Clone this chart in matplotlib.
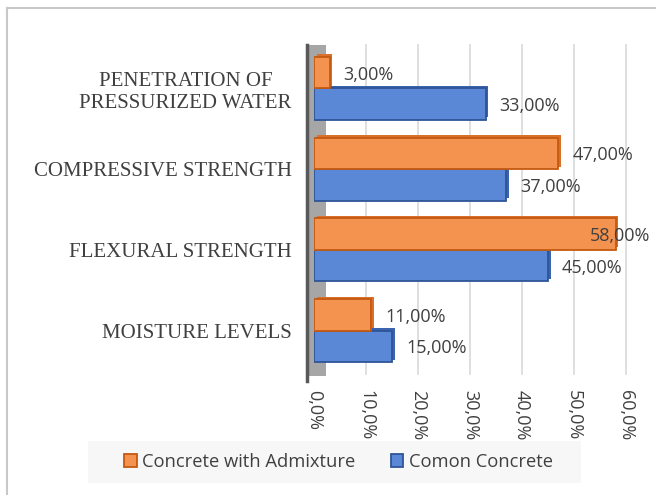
import numpy as np
import matplotlib.pyplot as plt
import matplotlib.patheffects as pe
from matplotlib.patches import Rectangle, Patch
from matplotlib.lines import Line2D

# 数据（自下而上）
categories = ['MOISTURE LEVELS', 'FLEXURAL STRENGTH', 'COMPRESSIVE STRENGTH',
              'PENETRATION OF\nPRESSURIZED WATER']
admixture = [0.11, 0.58, 0.47, 0.03]
common = [0.15, 0.45, 0.37, 0.33]
xticks = [0.0, 0.1, 0.2, 0.3, 0.4, 0.5, 0.6]
xtick_labels = ['0,0%', '10,0%', '20,0%', '30,0%', '40,0%', '50,0%', '60,0%']
series_names = ['Concrete with Admixture', 'Comon Concrete']

orange, orange_edge, orange_side = '#f4924f', '#c55a11', '#d9712c'
blue, blue_edge, blue_side = '#5a87d6', '#2f5597', '#3a64b0'
text_c = '#404040'
sans = ['Open Sans', 'DejaVu Sans']
serif = ['Liberation Serif', 'DejaVu Serif']

fig = plt.figure(figsize=(6.56, 4.95), dpi=100)
ax = fig.add_axes([314 / 656, 1 - 371 / 495, 312 / 656, 323 / 495])

y = np.arange(len(categories))
h = 0.39

# 左侧灰色背墙
ax.axvspan(-0.013, 0.024, ymin=-0.015, ymax=1.01, color='#a6a6a6', zorder=0.5, lw=0, clip_on=False)
ax.axvline(-0.013, ymin=-0.03, ymax=1.01, color='#595959', lw=2.5, zorder=0.6, clip_on=False)

for v in xticks[1:]:
    ax.axvline(v, ymin=-0.01, ymax=1.01, color='#d9d9d9', lw=1.2, zorder=0.4, clip_on=False)

shadow = lambda c: [pe.SimplePatchShadow(offset=(1.8, 1.8), shadow_rgbFace=c, alpha=1), pe.Normal()]
b1 = ax.barh(y - h / 2, common, height=h, color=blue, edgecolor=blue_edge, lw=1.3, zorder=2)
b2 = ax.barh(y + h / 2, admixture, height=h, color=orange, edgecolor=orange_edge, lw=1.3, zorder=3)
for b in b1:
    b.set_path_effects(shadow(blue_side))
for b in b2:
    b.set_path_effects(shadow(orange_side))

# 数据标签
for yy, vals in ((y + h / 2, admixture), (y - h / 2, common)):
    for yi, v in zip(yy, vals):
        dx = -26 if v >= max(admixture) else 14
        ax.annotate(f'{v * 100:.2f}%'.replace('.', ','), (v, yi), xytext=(dx, -2),
                    textcoords='offset pixels', ha='left', va='center',
                    fontsize=13, color=text_c, family=sans, zorder=5, annotation_clip=False)

ax.set_xlim(0, 0.6)
ax.set_ylim(-0.5, len(categories) - 0.5)
ax.set_yticks(y)
ax.set_yticklabels(categories, family=serif, fontsize=15, color=text_c, multialignment='center')
ax.set_xticks(xticks)
ax.set_xticklabels(xtick_labels, rotation=-90, family=sans, fontsize=13, color=text_c)
ax.tick_params(axis='y', length=0, pad=16)
ax.tick_params(axis='x', length=0, pad=14)
for s in ax.spines.values():
    s.set_visible(False)

# 图例背景与图例
fig.patches.append(Rectangle((88 / 656, 1 - 483 / 495), 493 / 656, 42 / 495,
                             transform=fig.transFigure, color='#f7f7f7', lw=0, zorder=0))
handles = [Patch(facecolor=orange, edgecolor=orange_edge, lw=1.3),
           Patch(facecolor=blue, edgecolor=blue_edge, lw=1.3)]
fig.legend(handles, series_names, loc='center', bbox_to_anchor=(0.516, 1 - 462 / 495), ncol=2,
           frameon=False, handlelength=0.7, handleheight=0.7, handletextpad=0.3,
           columnspacing=1.9, prop={'family': sans, 'size': 13.2}, labelcolor=text_c)

# 外框（左、上）
fig.lines.append(Line2D([6.5 / 656, 6.5 / 656], [0, 1 - 7.5 / 495], transform=fig.transFigure,
                        color='#c8c8c8', lw=1.5))
fig.lines.append(Line2D([6.5 / 656, 1], [1 - 7.5 / 495, 1 - 7.5 / 495], transform=fig.transFigure,
                        color='#c8c8c8', lw=1.5))

fig.savefig('out.png', dpi=100)
